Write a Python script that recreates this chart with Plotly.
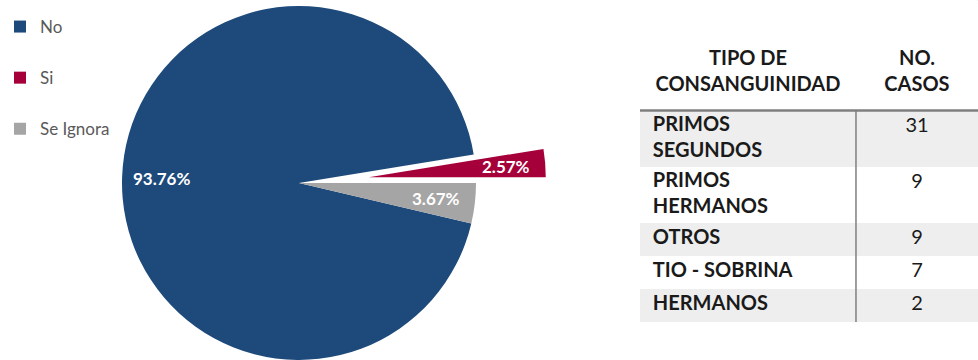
import math
import plotly.graph_objects as go

# Pie data: share of cases (%)
labels = ["No", "Si", "Se Ignora"]
shares = [93.76, 2.57, 3.67]
colors = ["#1d4a7b", "#a6003a", "#a5a5a5"]

# Table data: consanguinity type vs number of cases
tipos = ["PRIMOS<br>SEGUNDOS", "PRIMOS<br>HERMANOS", "OTROS", "TIO - SOBRINA", "HERMANOS"]
casos = [31, 9, 9, 7, 2]
header = ["TIPO DE<br>CONSANGUINIDAD", "NO.<br>CASOS"]

FONT = "Lato"
W, H = 978, 360

# ---- pie geometry (pixels) ----
cx, cy, r = 299, 183, 177
pull_px = 70
exploded = "Si"
label_frac = 0.78

total = sum(shares)
idx = labels.index(exploded)
# rotate so the exploded slice ends exactly at 3 o'clock (clockwise order)
rotation = (90 - sum(shares[: idx + 1]) / total * 360) % 360

# bearing (clockwise from 12 o'clock) of each slice bisector
bearings = []
acc = 0.0
for v in shares:
    bearings.append(rotation + (acc + v / 2) / total * 360)
    acc += v

ex_b = math.radians(bearings[idx])
dx = pull_px * math.sin(ex_b)
dy = -pull_px * math.cos(ex_b)


def dom(x0, y0):
    return dict(x=[(x0 - r) / W, (x0 + r) / W], y=[(H - y0 - r) / H, (H - y0 + r) / H])


fig = go.Figure()

# legend swatches (zero-size pies, one per label so each gets its own group gap)
for lab, val, col in zip(labels, shares, colors):
    fig.add_trace(go.Pie(
        labels=[lab], values=[val], sort=False,
        marker=dict(colors=[col], line=dict(width=0)),
        textinfo="none", hoverinfo="skip",
        domain=dict(x=[0.9995, 1.0], y=[0.9995, 1.0]),
        legendgroup=lab, showlegend=True,
    ))

# main pie with the exploded slice left blank
main_colors = [c if l != exploded else "rgba(0,0,0,0)" for l, c in zip(labels, colors)]
fig.add_trace(go.Pie(
    labels=labels, values=shares, sort=False, direction="clockwise",
    rotation=rotation, marker=dict(colors=main_colors, line=dict(width=0)),
    textinfo="none", domain=dom(cx, cy), showlegend=False,
))

# exploded slice drawn on its own, shifted outward along its bisector
ex_colors = [c if l == exploded else "rgba(0,0,0,0)" for l, c in zip(labels, colors)]
fig.add_trace(go.Pie(
    labels=labels, values=shares, sort=False, direction="clockwise",
    rotation=rotation, marker=dict(colors=ex_colors, line=dict(width=0)),
    textinfo="none", domain=dom(cx + dx, cy + dy), showlegend=False,
))

# percentage labels placed along each slice bisector
annotations = []
for i, (lab, v) in enumerate(zip(labels, shares)):
    ox, oy = (cx + dx, cy + dy) if lab == exploded else (cx, cy)
    b = math.radians(bearings[i])
    px = ox + label_frac * r * math.sin(b)
    py = oy - label_frac * r * math.cos(b)
    annotations.append(dict(
        x=px / W, y=1 - py / H, xref="paper", yref="paper",
        xanchor="center", yanchor="middle",
        text=f"<b>{v / total * 100:.2f}%</b>", showarrow=False,
        font=dict(family=FONT, size=17, color="white"),
    ))

# ---- table drawn on its own invisible cartesian axes (units = text lines) ----
HEAD_PAD, ROW_PAD = 0.96, 0.43
col_split = 0.639      # fraction of table width for the first column
text_left = 0.038
n_lines = [t.count("<br>") + 1 for t in tipos]
row_h = [n + ROW_PAD for n in n_lines]
head_h = header[0].count("<br>") + 1 + HEAD_PAD
row_top = []
y = head_h
for h in row_h:
    row_top.append(y)
    y += h
y_total = y
row_mid = [t + h / 2 for t, h in zip(row_top, row_h)]
row_first = [t + ROW_PAD / 2 + 0.5 for t in row_top]
row_fill = ["#eeeeee" if i % 2 == 0 else "white" for i in range(len(tipos))]

fig.add_trace(go.Bar(
    y=row_mid, x=[1] * len(tipos), base=0, width=row_h, orientation="h",
    marker=dict(color=row_fill, line=dict(width=0)),
    hoverinfo="skip", showlegend=False, xaxis="x", yaxis="y",
))
fig.add_trace(go.Scatter(
    x=[text_left] * len(tipos), y=row_mid, mode="text",
    text=[f"<b>{t}</b>" for t in tipos], textposition="middle right",
    textfont=dict(family=FONT, size=20, color="#1a1a1a"),
    hoverinfo="skip", showlegend=False, xaxis="x", yaxis="y",
))
fig.add_trace(go.Scatter(
    x=[(col_split + 1) / 2] * len(casos), y=row_first, mode="text",
    text=[str(c) for c in casos], textposition="middle center",
    textfont=dict(family=FONT, size=20, color="#1a1a1a"),
    hoverinfo="skip", showlegend=False, xaxis="x", yaxis="y",
))
fig.add_trace(go.Scatter(
    x=[col_split / 2, (col_split + 1) / 2], y=[head_h / 2 - 0.15] * 2, mode="text",
    text=[f"<b>{h}</b>" for h in header], textposition="middle center",
    textfont=dict(family=FONT, size=20, color="#1a1a1a"),
    hoverinfo="skip", showlegend=False, xaxis="x", yaxis="y",
))

fig.update_layout(
    width=W, height=H,
    margin=dict(l=0, r=0, t=0, b=0),
    paper_bgcolor="white", plot_bgcolor="rgba(0,0,0,0)",
    showlegend=True,
    legend=dict(
        x=0.0, y=1 - 9 / H, xanchor="left", yanchor="top",
        font=dict(family=FONT, size=17, color="#595959"),
        tracegroupgap=26, itemwidth=30, bgcolor="rgba(0,0,0,0)",
    ),
    xaxis=dict(domain=[640 / W, 1.0], range=[0, 1], visible=False, fixedrange=True),
    yaxis=dict(domain=[1 - 322 / H, 1 - 42 / H], range=[y_total, 0],
               visible=False, fixedrange=True),
    bargap=0,
    annotations=annotations,
    shapes=[
        dict(type="line", xref="x", yref="y", x0=0, x1=1, y0=head_h, y1=head_h,
             line=dict(color="#7f7f7f", width=2.5)),
        dict(type="line", xref="x", yref="y", x0=col_split, x1=col_split,
             y0=head_h, y1=y_total, line=dict(color="#7f7f7f", width=1.5)),
    ],
)

fig.write_html("out.html")
